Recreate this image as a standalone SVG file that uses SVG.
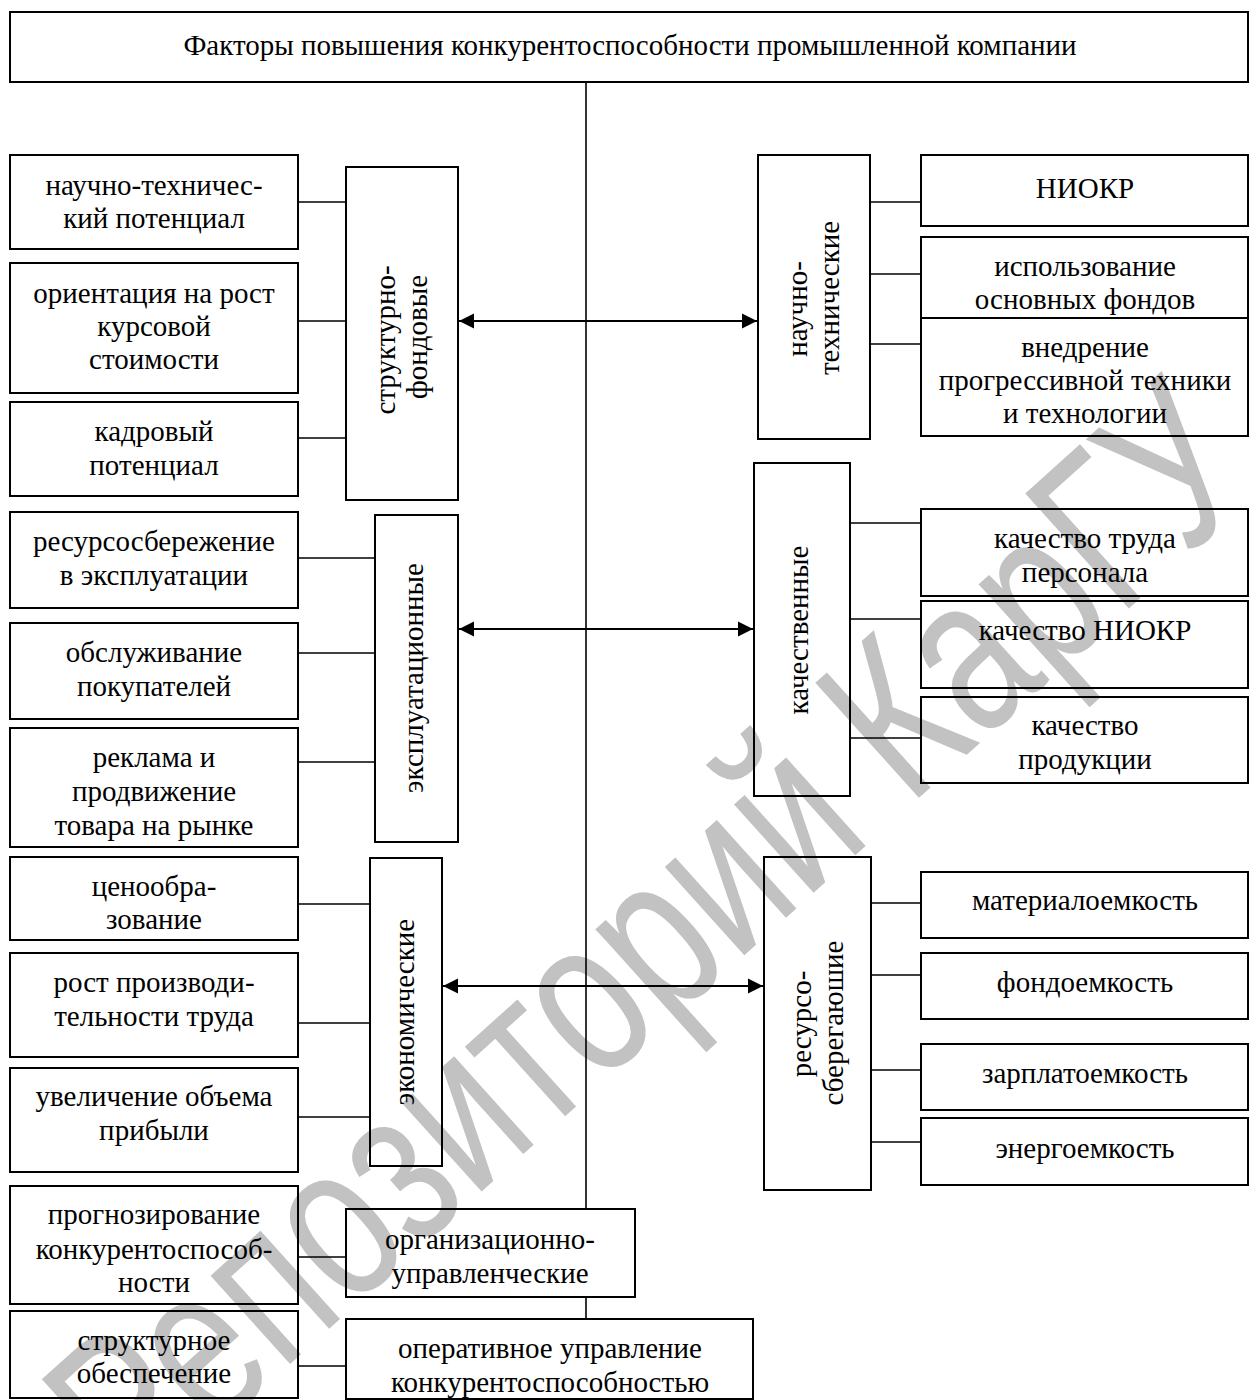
<svg xmlns="http://www.w3.org/2000/svg" width="1250" height="1400" viewBox="0 0 1250 1400">
<style>
.box{fill:none;stroke:#000;stroke-width:2}
.ln{stroke:#000;stroke-width:1.6;fill:none}
.ar{stroke:#000;stroke-width:2.2;fill:none}
text{font-family:"Liberation Serif","Times New Roman",serif;font-size:29px;fill:#000;text-anchor:middle}
.wm{font-family:"Liberation Sans",Arial,sans-serif;font-size:225px;fill:#c2c2c2;text-anchor:middle}
</style>
<defs>
<marker id="ah" viewBox="0 0 10 10" refX="10" refY="5" markerWidth="7" markerHeight="7" orient="auto-start-reverse" markerUnits="strokeWidth">
<path d="M0,0 L10,5 L0,10 Z" fill="#000"/>
</marker>
</defs>
<rect width="1250" height="1400" fill="#fff"/>
<text class="wm" transform="translate(700,995) rotate(-42)" textLength="1520" lengthAdjust="spacingAndGlyphs">Репозиторий КарГУ</text>

<g id="connectors">
<line class="ln" x1="586" y1="82" x2="586" y2="1209"/>
<line class="ln" x1="586" y1="1297" x2="586" y2="1319"/>
<line class="ar" x1="459" y1="321" x2="757" y2="321" marker-start="url(#ah)" marker-end="url(#ah)"/>
<line class="ar" x1="459" y1="629" x2="753" y2="629" marker-start="url(#ah)" marker-end="url(#ah)"/>
<line class="ar" x1="443" y1="986" x2="763" y2="986" marker-start="url(#ah)" marker-end="url(#ah)"/>
<line class="ln" x1="298" y1="202" x2="346" y2="202"/>
<line class="ln" x1="298" y1="321" x2="346" y2="321"/>
<line class="ln" x1="298" y1="438" x2="346" y2="438"/>
<line class="ln" x1="298" y1="558" x2="375" y2="558"/>
<line class="ln" x1="298" y1="653" x2="375" y2="653"/>
<line class="ln" x1="298" y1="762" x2="375" y2="762"/>
<line class="ln" x1="298" y1="904" x2="370" y2="904"/>
<line class="ln" x1="298" y1="1023" x2="370" y2="1023"/>
<line class="ln" x1="298" y1="1117" x2="370" y2="1117"/>
<line class="ln" x1="298" y1="1257" x2="346" y2="1257"/>
<line class="ln" x1="298" y1="1366" x2="346" y2="1366"/>
<line class="ln" x1="870" y1="202" x2="921" y2="202"/>
<line class="ln" x1="870" y1="274" x2="921" y2="274"/>
<line class="ln" x1="870" y1="344" x2="921" y2="344"/>
<line class="ln" x1="850" y1="523" x2="921" y2="523"/>
<line class="ln" x1="850" y1="619" x2="921" y2="619"/>
<line class="ln" x1="850" y1="738" x2="921" y2="738"/>
<line class="ln" x1="871" y1="903" x2="921" y2="903"/>
<line class="ln" x1="871" y1="975" x2="921" y2="975"/>
<line class="ln" x1="871" y1="1070" x2="921" y2="1070"/>
<line class="ln" x1="871" y1="1142" x2="921" y2="1142"/>
</g>

<g id="title"><rect class="box" x="10" y="12" width="1238" height="70"/><text x="630" y="55">Факторы повышения конкурентоспособности промышленной компании</text></g>

<g id="l1"><rect class="box" x="10" y="155" width="288" height="94"/><text x="154" y="195">научно-техничес-</text><text x="154" y="228">кий потенциал</text></g>
<g id="l2"><rect class="box" x="10" y="263" width="288" height="130"/><text x="154" y="303">ориентация на рост</text><text x="154" y="336">курсовой</text><text x="154" y="369">стоимости</text></g>
<g id="l3"><rect class="box" x="10" y="402" width="288" height="94"/><text x="154" y="441">кадровый</text><text x="154" y="475">потенциал</text></g>
<g id="l4"><rect class="box" x="10" y="512" width="288" height="96"/><text x="154" y="551">ресурсосбережение</text><text x="154" y="585">в эксплуатации</text></g>
<g id="l5"><rect class="box" x="10" y="623" width="288" height="96"/><text x="154" y="662">обслуживание</text><text x="154" y="696">покупателей</text></g>
<g id="l6"><rect class="box" x="10" y="728" width="288" height="119"/><text x="154" y="767">реклама и</text><text x="154" y="801">продвижение</text><text x="154" y="835">товара на рынке</text></g>
<g id="l7"><rect class="box" x="10" y="857" width="288" height="83"/><text x="154" y="896">ценообра-</text><text x="154" y="929">зование</text></g>
<g id="l8"><rect class="box" x="10" y="953" width="288" height="104"/><text x="154" y="992">рост производи-</text><text x="154" y="1026">тельности труда</text></g>
<g id="l9"><rect class="box" x="10" y="1068" width="288" height="104"/><text x="154" y="1106">увеличение объема</text><text x="154" y="1140">прибыли</text></g>
<g id="l10"><rect class="box" x="10" y="1186" width="288" height="118"/><text x="154" y="1224">прогнозирование</text><text x="154" y="1259">конкурентоспособ-</text><text x="154" y="1292">ности</text></g>
<g id="l11"><rect class="box" x="10" y="1311" width="288" height="87"/><text x="154" y="1350">структурное</text><text x="154" y="1383">обеспечение</text></g>

<g id="m1"><rect class="box" x="346" y="167" width="112" height="333"/><text transform="translate(402,0) rotate(-90)"><tspan x="-340" y="-7">структурно-</tspan><tspan x="-337" y="25">фондовые</tspan></text></g>
<g id="m2"><rect class="box" x="375" y="515" width="83" height="327"/><text transform="translate(413,678) rotate(-90)" x="0" y="10">эксплуатационные</text></g>
<g id="m3"><rect class="box" x="370" y="858" width="72" height="308"/><text transform="translate(404,1012) rotate(-90)" x="0" y="10">экономические</text></g>
<g id="m4"><rect class="box" x="346" y="1209" width="289" height="88"/><text x="490" y="1249">организационно-</text><text x="490" y="1283">управленческие</text></g>
<g id="m5"><rect class="box" x="346" y="1319" width="407" height="80"/><text x="550" y="1358">оперативное управление</text><text x="550" y="1392">конкурентоспособностью</text></g>

<g id="r1"><rect class="box" x="758" y="155" width="112" height="284"/><text transform="translate(814,0) rotate(-90)"><tspan x="-309" y="-7">научно-</tspan><tspan x="-298" y="25">технические</tspan></text></g>
<g id="r2"><rect class="box" x="754" y="463" width="96" height="333"/><text transform="translate(798,630) rotate(-90)" x="0" y="10">качественные</text></g>
<g id="r3"><rect class="box" x="764" y="857" width="107" height="333"/><text transform="translate(818,0) rotate(-90)"><tspan x="-1024" y="-7">ресурсо-</tspan><tspan x="-1023" y="25">сберегаюшие</tspan></text></g>

<g id="n1"><rect class="box" x="921" y="155" width="327" height="71"/><text x="1085" y="198">НИОКР</text></g>
<g id="n2"><rect class="box" x="921" y="237" width="327" height="81"/><text x="1085" y="276">использование</text><text x="1085" y="309">основных фондов</text></g>
<g id="n3"><rect class="box" x="921" y="318" width="327" height="118"/><text x="1085" y="357">внедрение</text><text x="1085" y="390">прогрессивной техники</text><text x="1085" y="423">и технологии</text></g>
<g id="q1"><rect class="box" x="921" y="509" width="327" height="87"/><text x="1085" y="548">качество труда</text><text x="1085" y="582">персонала</text></g>
<g id="q2"><rect class="box" x="921" y="601" width="327" height="87"/><text x="1085" y="640">качество НИОКР</text></g>
<g id="q3"><rect class="box" x="921" y="697" width="327" height="86"/><text x="1085" y="735">качество</text><text x="1085" y="769">продукции</text></g>
<g id="s1"><rect class="box" x="921" y="872" width="327" height="66"/><text x="1085" y="910">материалоемкость</text></g>
<g id="s2"><rect class="box" x="921" y="953" width="327" height="66"/><text x="1085" y="992">фондоемкость</text></g>
<g id="s3"><rect class="box" x="921" y="1044" width="327" height="66"/><text x="1085" y="1083">зарплатоемкость</text></g>
<g id="s4"><rect class="box" x="921" y="1118" width="327" height="67"/><text x="1085" y="1158">энергоемкость</text></g>
</svg>
